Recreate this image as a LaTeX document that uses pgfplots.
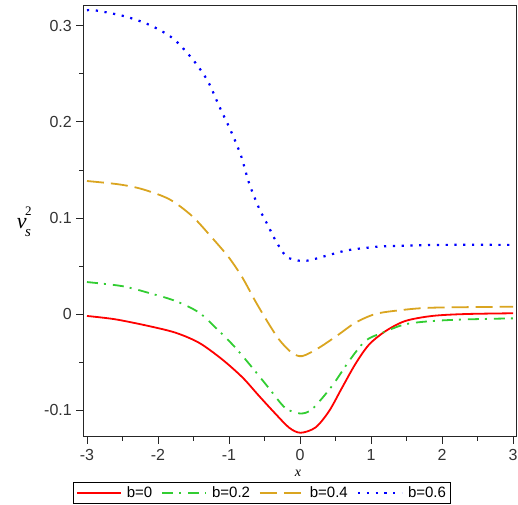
\documentclass[border=0pt]{standalone}
\usepackage{pgfplots}
\pgfplotsset{compat=1.18}
\usepackage{fontspec}
\setmainfont{Liberation Sans}
\newfontfamily\tnr{Liberation Serif}
\usetikzlibrary{calc}
\definecolor{cred}{RGB}{255,0,0}
\definecolor{cgreen}{RGB}{50,205,50}
\definecolor{cgold}{RGB}{218,165,32}
\definecolor{cblue}{RGB}{0,0,255}
\begin{document}
\begin{tikzpicture}
\begin{axis}[
  name=ax,
  scale only axis,
  width=432.7pt, height=430.5pt,
  xmin=-3.052, xmax=3.042,
  ymin=-0.1275, ymax=0.3207,
  axis line style={line width=1pt, black!85},
  xtick={-3,-2,-1,0,1,2,3},
  xticklabels={-3,-2,-1,0,1,2,3},
  ytick={-0.1,0,0.1,0.2,0.3},
  yticklabels={-0.1,0,0.1,0.2,0.3},
  minor x tick num=1, minor y tick num=1,
  tick align=outside,
  xtick pos=bottom, ytick pos=left,
  major tick length=7pt, minor tick length=4pt,
  tick style={line width=0.9pt, black!85},
  ticklabel style={font=\fontsize{16}{18}\selectfont, text=black!80},
  xticklabel style={yshift=-2pt},
  yticklabel style={xshift=-1pt},
  xlabel={\tnr\itshape\fontsize{14}{14}\selectfont x},
  xlabel style={at={(axis description cs:0.496,-0.086)}, anchor=center, inner sep=0pt},
  ylabel={{\tnr\itshape\fontsize{22}{22}\selectfont v}\kern-1.5pt\rlap{\raisebox{13pt}{\tnr\fontsize{13}{13}\selectfont 2}}\raisebox{-8pt}{\tnr\itshape\fontsize{15}{15}\selectfont s}},
  ylabel style={rotate=-90, at={(axis description cs:-0.137,0.498)}, anchor=center},
  legend columns=4,
  legend style={at={(axis description cs:0.413,-0.1305)}, anchor=center,
    draw=black, line width=1pt, font=\fontsize{15}{17}\selectfont,
    inner xsep=3pt, inner ysep=2.5pt,
    /tikz/every odd column/.append style={column sep=3pt},
    /tikz/every even column/.append style={column sep=7pt}},
  legend image code/.code={\draw[#1] (0pt,0pt) -- (44pt,0pt);},
]
\addplot[cred, line width=1.8pt, smooth] coordinates {
(-3,-0.002) (-2.6,-0.0055) (-2.13,-0.0125) (-1.75,-0.0195) (-1.42,-0.030) (-1.10,-0.047) (-0.81,-0.066) (-0.58,-0.085) (-0.35,-0.1035) (-0.15,-0.1185) (0.01,-0.1236) (0.22,-0.118) (0.41,-0.101) (0.59,-0.077) (0.78,-0.052) (0.97,-0.032) (1.20,-0.018) (1.48,-0.0073) (1.86,-0.002) (2.33,0.0) (3,0.0008)
};
\addlegendentry{b=0}
\addplot[cgreen, line width=1.8pt, smooth, dash pattern=on 11pt off 6pt on 2pt off 7pt] coordinates {
(-3,0.0333) (-2.5,0.029) (-2.13,0.022) (-1.75,0.0135) (-1.42,0.0014) (-1.14,-0.0177) (-0.91,-0.035) (-0.67,-0.056) (-0.44,-0.077) (-0.21,-0.0976) (0,-0.1035) (0.17,-0.099) (0.45,-0.075) (0.69,-0.049) (0.92,-0.028) (1.16,-0.0195) (1.48,-0.0107) (1.86,-0.0073) (2.33,-0.0056) (3,-0.0045)
};
\addlegendentry{b=0.2}
\addplot[cgold, line width=1.8pt, smooth, dash pattern=on 17pt off 7pt] coordinates {
(-3,0.1385) (-2.55,0.135) (-2.22,0.130) (-1.84,0.1195) (-1.52,0.102) (-1.24,0.0795) (-1.0,0.0587) (-0.81,0.0378) (-0.63,0.0135) (-0.45,-0.009) (-0.29,-0.027) (-0.12,-0.040) (0.03,-0.0438) (0.27,-0.035) (0.55,-0.021) (0.78,-0.009) (1.06,0.0) (1.39,0.0038) (1.86,0.0066) (3,0.0076)
};
\addlegendentry{b=0.4}
\addplot[cblue, line width=2.2pt, smooth, dash pattern=on 2.2pt off 6.6pt] coordinates {
(-3,0.3163) (-2.87,0.316) (-2.47,0.310) (-2.12,0.301) (-1.79,0.287) (-1.51,0.265) (-1.30,0.2427) (-1.14,0.2167) (-0.97,0.19) (-0.83,0.1646) (-0.72,0.1368) (-0.58,0.1107) (-0.46,0.0934) (-0.34,0.076) (-0.20,0.0604) (-0.08,0.0566) (0.04,0.0552) (0.17,0.0566) (0.41,0.0615) (0.66,0.0663) (0.92,0.0688) (1.16,0.0705) (1.5,0.0712) (2,0.072) (3,0.072)
};
\addlegendentry{b=0.6}
\end{axis}
\pgfresetboundingbox
\path[use as bounding box] ($(ax.south west)+(-83.3pt,-67.5pt)$) rectangle ($(ax.north east)+(2pt,6pt)$);
\end{tikzpicture}
\end{document}
